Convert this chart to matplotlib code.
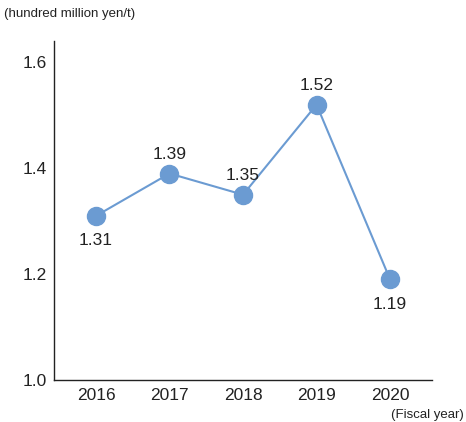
import matplotlib.pyplot as plt
from matplotlib import font_manager

years = ["2016", "2017", "2018", "2019", "2020"]
values = [1.31, 1.39, 1.35, 1.52, 1.19]
label_above = [False, True, True, True, False]

names = {f.name for f in font_manager.fontManager.ttflist}
fam = "Liberation Sans Narrow" if "Liberation Sans Narrow" in names else "Liberation Sans"
plt.rcParams["font.family"] = [fam, "DejaVu Sans"]

line_c = "#6b9bd2"

fig = plt.figure(figsize=(4.66, 4.22), dpi=100)
ax = fig.add_axes([0.116, 0.0995, 0.811, 0.803])

x = list(range(len(years)))
ax.plot(x, values, color=line_c, lw=1.5, marker="o", ms=13, mec=line_c, mfc=line_c)

for xi, v, up in zip(x, values, label_above):
    off = 14 if up else -18
    ax.annotate(f"{v:.2f}", (xi, v), xytext=(0, off), textcoords="offset points",
                ha="center", va="center", fontsize=12.5, color="#222222")

ax.set_xlim(-0.57, 4.57)
ax.set_ylim(1.0, 1.64)
ax.set_yticks([1.0, 1.2, 1.4, 1.6])
ax.set_xticks(x)
ax.set_xticklabels(years)
ax.tick_params(length=0, labelsize=12.5, colors="#222222")
ax.tick_params(axis="y", pad=5)
ax.tick_params(axis="x", pad=6)
for s in ["top", "right"]:
    ax.spines[s].set_visible(False)
for s in ["left", "bottom"]:
    ax.spines[s].set_color("#222222")
    ax.spines[s].set_linewidth(1.0)

fig.text(4 / 466, 1 - 14 / 422, "(hundred million yen/t)", fontsize=9.5, va="center", ha="left", color="#222222")
fig.text(464 / 466, 1 - 415 / 422, "(Fiscal year)", fontsize=9.5, va="center", ha="right", color="#222222")

plt.savefig("out.png", dpi=100)
